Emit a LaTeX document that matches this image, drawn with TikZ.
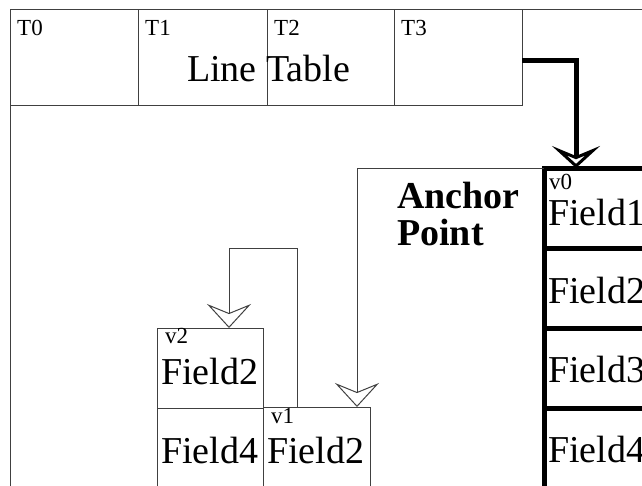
\documentclass[tikz,border=0pt]{standalone}
\usepackage{fontspec}
\setmainfont{Liberation Serif}
\usetikzlibrary{arrows.meta}

\tikzset{
  cell/.style={draw=black!75, line width=1pt, anchor=north west, inner sep=0pt, outer sep=0pt},
  vcell/.style={draw, line width=5pt, anchor=north west, inner sep=0pt, outer sep=0pt,
    minimum width=130pt, minimum height=80pt},
  big/.style={anchor=base west, inner sep=0pt, font=\fontsize{38}{38}\selectfont},
  small/.style={anchor=base west, inner sep=0pt, font=\fontsize{23}{23}\selectfont},
  bold/.style={anchor=base west, inner sep=0pt, font=\bfseries\fontsize{38}{38}\selectfont},
  ptr/.style={draw=black!75, line width=1pt,
    -{Stealth[open, length=24pt, width=44pt, inset=9pt]}},
  bigptr/.style={line width=5pt,
    -{Stealth[open, length=22pt, width=48pt, inset=10pt]}},
}

\begin{document}
\begin{tikzpicture}[x=1pt, y=-1pt]
  \useasboundingbox (0,0) rectangle (642,485);
  \clip (0,0) rectangle (642,485);

  %% ---- outer frame ----
  \node[cell, minimum width=700pt, minimum height=540pt] (frame) at (10,9) {};

  %% ---- line table ----
  \node[cell, minimum width=128pt, minimum height=96pt] (t0) at (10,9) {};
  \node[cell, minimum width=129pt, minimum height=96pt] (t1) at (138,9) {};
  \node[cell, minimum width=127pt, minimum height=96pt] (t2) at (267,9) {};
  \node[cell, minimum width=128pt, minimum height=96pt] (t3) at (394,9) {};
  \node[small] (t0l) at (17,35) {T0};
  \node[small] (t1l) at (145,35) {T1};
  \node[small] (t2l) at (274,35) {T2};
  \node[small] (t3l) at (401,35) {T3};
  \node[big] (title) at (187,81) {Line Table};

  %% ---- v0 (anchor) ----
  \node[vcell] (v0)  at (544,168) {};
  \node[vcell] (v0b) at (544,248) {};
  \node[vcell] (v0c) at (544,328) {};
  \node[vcell] (v0d) at (544,408) {};
  \node[small] (v0l) at (549,189) {v0};
  \node[big] (v0f1) at (548,225) {Field1};
  \node[big] (v0f2) at (548,303) {Field2};
  \node[big] (v0f3) at (548,382) {Field3};
  \node[big] (v0f4) at (548,462) {Field4};

  \node[bold] (anc) at (397,208) {Anchor};
  \node[bold] (pnt) at (397,245) {Point};

  %% ---- v2 ----
  \node[cell, minimum width=106pt, minimum height=80pt] (v2) at (157,328) {};
  \node[cell, minimum width=106pt, minimum height=100pt] (v2b) at (157,408) {};
  \node[small] (v2l) at (165,343) {v2};
  \node[big] (v2f2) at (161,384) {Field2};
  \node[big] (v2f4) at (161,463) {Field4};

  %% ---- v1 ----
  \node[cell, minimum width=107pt, minimum height=100pt] (v1) at (263,407) {};
  \node[small] (v1l) at (271,423) {v1};
  \node[big] (v1f2) at (267,463) {Field2};

  %% ---- pointers ----
  \draw[bigptr] ([yshift=-3pt]t3.east) -| ([xshift=32pt]v0.north west);
  \draw[ptr] (v0.north west) -| ([xshift=94pt]v1.north west);
  \draw[ptr] ([xshift=34pt]v1.north west) -- ++(0,-159) -| ([xshift=72pt]v2.north west);

\end{tikzpicture}
\end{document}
